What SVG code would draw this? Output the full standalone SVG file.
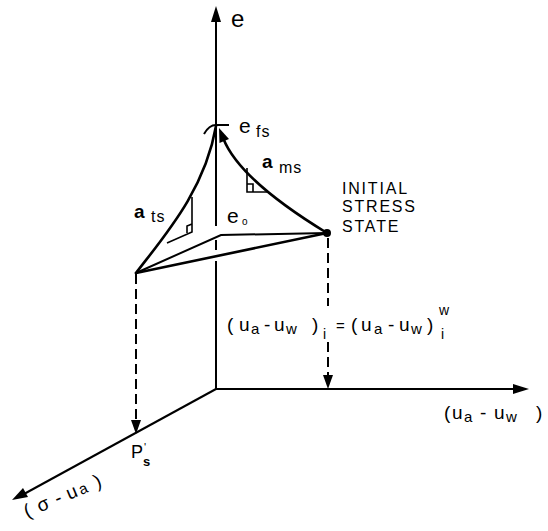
<svg xmlns="http://www.w3.org/2000/svg" width="548" height="531" viewBox="0 0 548 531">
<style>
text{font-family:"Liberation Sans",Arial,sans-serif;fill:#000}
.ax{stroke:#000;stroke-width:2;fill:none}
.th{stroke:#000;stroke-width:2.6;fill:none;stroke-linecap:round}
.dash{stroke:#000;stroke-width:2;fill:none;stroke-dasharray:10 5}
.thin{stroke:#000;stroke-width:1.6;fill:none}
.ah{fill:#000;stroke:none}
</style>
<rect width="548" height="531" fill="#fff"/>
<g id="connectors">
  <!-- e axis -->
  <path class="ax" d="M216,18 V226 M216,240 V250 M216,261 V389"/>
  <polygon class="ah" points="216,6 211,22 221,22"/>
  <!-- (ua-uw) axis -->
  <path class="ax" d="M216,389 H516"/>
  <polygon class="ah" points="529,389 513,384 513,394"/>
  <!-- (sigma-ua) axis -->
  <path class="ax" d="M216,389 L24,494"/>
  <polygon class="ah" points="12,500 23,488 28,497"/>
  <!-- dashed projections -->
  <path class="dash" d="M136,274 V423"/>
  <polygon class="ah" points="136,434 131,420 141,420"/>
  <path class="dash" d="M328,238 V306 M328,342 V377"/>
  <polygon class="ah" points="328,389 323,375 333,375"/>
  <!-- base triangle -->
  <path class="ax" d="M136,273 L221,235 L327,233"/>
  <path class="th" d="M136,273 L327,233"/>
  <!-- a_ts curve -->
  <path class="th" d="M136,273 C165,235 205,190 216,126"/>
  <!-- a_ms curve -->
  <path class="th" d="M327,233 Q240,180 223.5,139"/>
  <polygon class="ah" points="219,128 229,139 219.5,143"/>
  <!-- apex mark -->
  <path class="ax" d="M204,134 Q209,125 216,125 L229,125"/>
  <!-- slope triangles -->
  <path class="thin" d="M247,168 V192 H269 M247,184 H253 V192"/>
  <path class="thin" d="M192,197 V232 L167,243 M192,224 L187,226 V233"/>
  <circle cx="327" cy="233" r="4" fill="#000"/>
</g>
<g id="label-e"><text x="231" y="27" font-size="24">e</text></g>
<g id="label-efs"><text x="239" y="133" font-size="21">e<tspan x="256" y="137" font-size="16" letter-spacing="1">fs</tspan></text></g>
<g id="label-ams"><text x="262" y="168" font-size="19" font-weight="bold">a<tspan x="279" y="173" font-size="16" font-weight="normal" letter-spacing="1">ms</tspan></text></g>
<g id="label-ats"><text x="134" y="218" font-size="19" font-weight="bold">a<tspan x="151" y="222" font-size="16" font-weight="normal" letter-spacing="1">ts</tspan></text></g>
<g id="label-eo"><text x="227" y="223" font-size="21">e<tspan x="242" y="225" font-size="10">o</tspan></text></g>
<g id="label-initial" font-size="16" letter-spacing="1.8">
  <text x="342" y="194">INITIAL</text>
  <text x="342" y="212">STRESS</text>
  <text x="342" y="232">STATE</text>
</g>
<g id="label-equation" font-size="19">
  <text y="331"><tspan x="227">(</tspan><tspan x="239">u</tspan><tspan x="251" y="334" font-size="15">a</tspan><tspan x="264" y="331">-</tspan><tspan x="274">u</tspan><tspan x="286" y="334" font-size="15">w</tspan><tspan x="312" y="331">)</tspan><tspan x="323" y="339" font-size="14">i</tspan><tspan x="336" y="331" font-size="15">=</tspan><tspan x="351">(</tspan><tspan x="361">u</tspan><tspan x="374" y="334" font-size="15">a</tspan><tspan x="388" y="331">-</tspan><tspan x="399">u</tspan><tspan x="411" y="334" font-size="15">w</tspan><tspan x="427" y="331">)</tspan><tspan x="439" y="315" font-size="14">w</tspan><tspan x="441" y="339" font-size="14">i</tspan></text>
</g>
<g id="label-uauw" font-size="19">
  <text y="419"><tspan x="444">(</tspan><tspan x="452">u</tspan><tspan x="464" y="422" font-size="15">a</tspan><tspan x="480" y="419">-</tspan><tspan x="494">u</tspan><tspan x="506" y="422" font-size="15">w</tspan><tspan x="536" y="419">)</tspan></text>
</g>
<g id="label-ps"><text x="131" y="458" font-size="18">P<tspan x="144" y="451" font-size="11">'</tspan><tspan x="143" y="466" font-size="13" font-weight="bold">s</tspan></text></g>
<g id="label-sigma"><text x="0" y="0" font-size="19" transform="translate(27,518) rotate(-23)"><tspan x="0">(</tspan><tspan x="14">σ</tspan><tspan x="33">-</tspan><tspan x="46">u</tspan><tspan x="59" font-size="15">a</tspan><tspan x="76" font-size="19">)</tspan></text></g>
</svg>
